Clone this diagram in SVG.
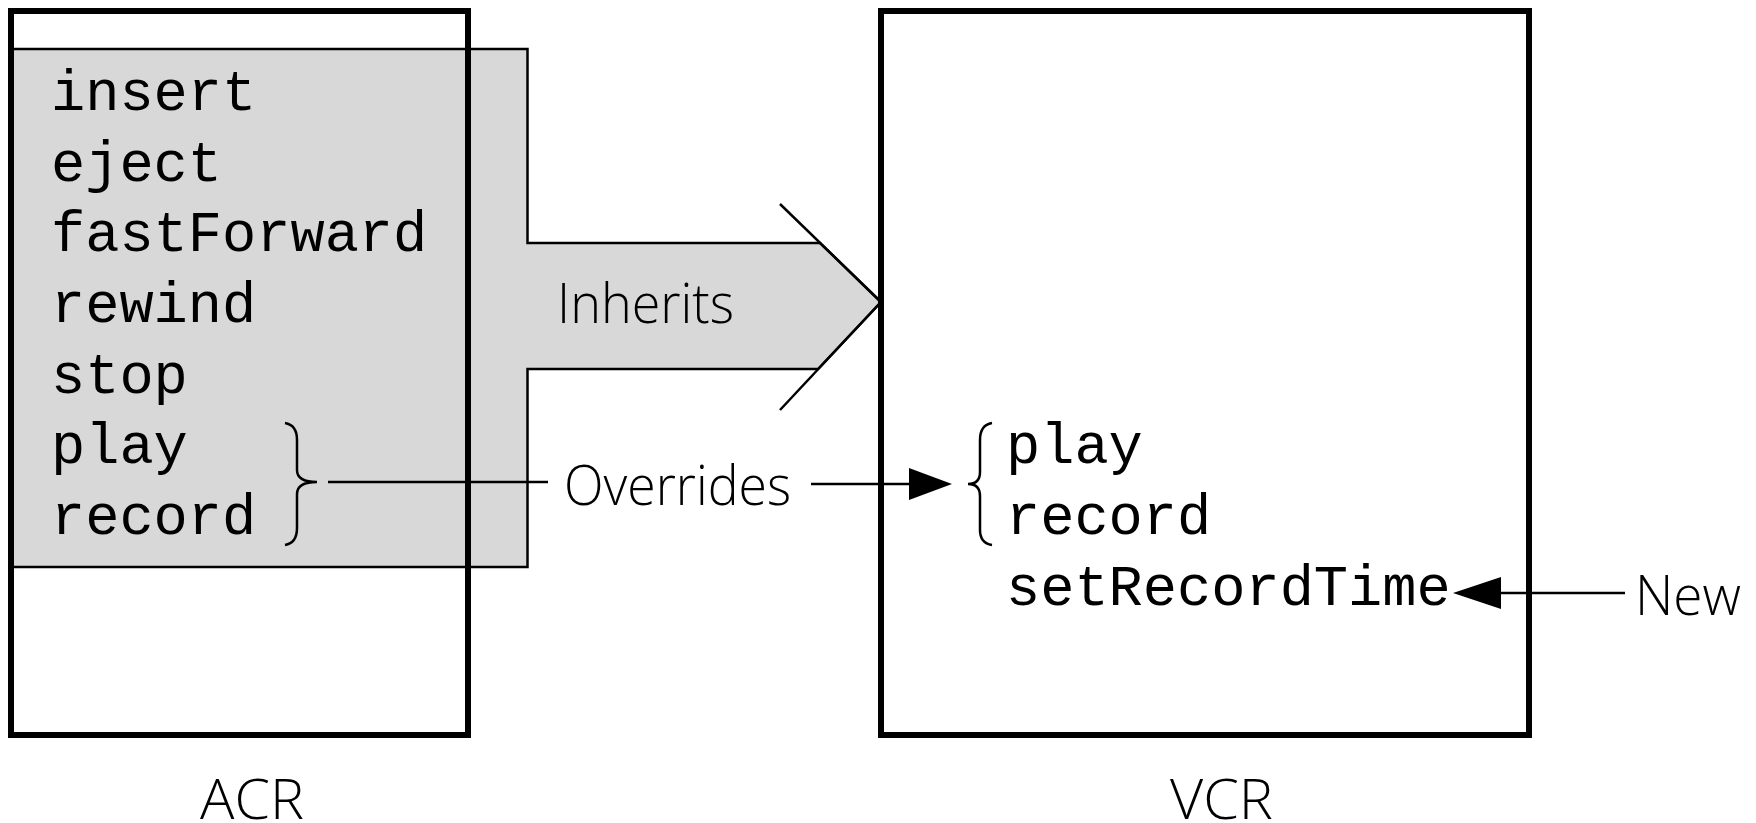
<svg xmlns="http://www.w3.org/2000/svg" width="1756" height="823" viewBox="0 0 1756 823">
  <style>
    .box { fill: none; stroke: #000; stroke-width: 6; }
    .thin { fill: none; stroke: #000; stroke-width: 2.5; }
    .code { font-family: "Liberation Mono", "Courier New", monospace; font-size: 57px; fill: #000; }
    .label { font-family: "Open Sans", "Noto Sans", sans-serif; font-weight: 300; font-size: 56px; fill: #000; }
    .head { fill: #000; stroke: none; }
  </style>

  <rect x="0" y="0" width="1756" height="823" fill="#fff"/>

  <!-- inherited members band with the Inherits arrow -->
  <g id="inherits">
    <polygon points="11,49 527.5,49 527.5,243 820,243 881,302 818,369 527.5,369 527.5,567 11,567" fill="#d8d8d8" stroke="#000" stroke-width="2.5"/>
    <line class="thin" x1="780" y1="204" x2="881" y2="302"/>
    <line class="thin" x1="881" y1="302" x2="780" y2="410"/>
    <text class="label" x="557" y="323" textLength="177" lengthAdjust="spacingAndGlyphs">Inherits</text>
  </g>

  <!-- base class ACR -->
  <g id="acr">
    <rect class="box" x="11" y="11" width="457" height="724"/>
    <text class="code" x="51" y="110">insert</text>
    <text class="code" x="51" y="180.7">eject</text>
    <text class="code" x="51" y="251.4">fastForward</text>
    <text class="code" x="51" y="322">rewind</text>
    <text class="code" x="51" y="392.7">stop</text>
    <text class="code" x="51" y="463.4">play</text>
    <text class="code" x="51" y="534">record</text>
    <path class="thin" d="M285,423 Q297,425 297,440 L297,470 Q297,482 317,482 Q297,482 297,494 L297,528 Q297,543 285,545"/>
    <text class="label" x="200" y="819" textLength="104" lengthAdjust="spacingAndGlyphs">ACR</text>
  </g>

  <!-- derived class VCR -->
  <g id="vcr">
    <rect class="box" x="881" y="11" width="648" height="724"/>
    <path class="thin" d="M992,423 Q980,425 980,440 L980,472 Q980,484 968,484 Q980,484 980,496 L980,530 Q980,543 992,545"/>
    <text class="code" x="1006" y="463.4">play</text>
    <text class="code" x="1006" y="534">record</text>
    <text class="code" x="1006" y="604.7">setRecordTime</text>
    <text class="label" x="1170" y="819" textLength="103" lengthAdjust="spacingAndGlyphs">VCR</text>
  </g>

  <!-- Overrides and New annotations -->
  <g id="connectors">
    <line class="thin" x1="328" y1="482" x2="548" y2="482"/>
    <text class="label" x="564" y="505" textLength="227" lengthAdjust="spacingAndGlyphs">Overrides</text>
    <line class="thin" x1="811" y1="484" x2="912" y2="484"/>
    <polygon class="head" points="952,484 909,468 909,500"/>
    <line class="thin" x1="1625" y1="593" x2="1498" y2="593"/>
    <polygon class="head" points="1453,593 1501,577 1501,609"/>
    <text class="label" x="1635" y="615" textLength="106" lengthAdjust="spacingAndGlyphs">New</text>
  </g>
</svg>
